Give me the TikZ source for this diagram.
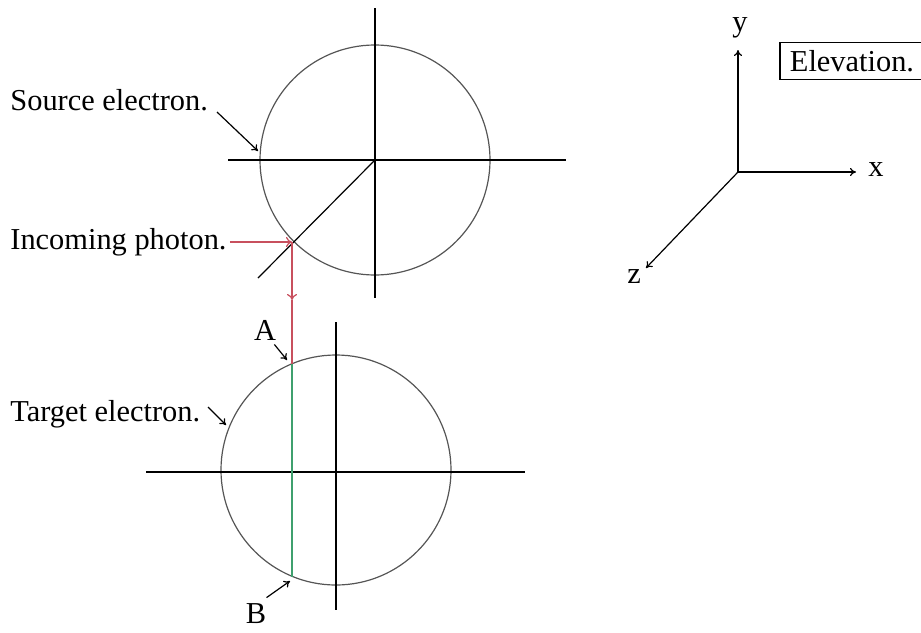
\documentclass[tikz,border=0pt]{standalone}
\usepackage{fontspec}
\setmainfont{Liberation Serif}
\usetikzlibrary{arrows.meta}
\definecolor{Photon}{HTML}{C8505E}
\definecolor{Path}{HTML}{3FA06E}
\definecolor{Shell}{HTML}{555555}

\begin{document}
\begin{tikzpicture}[
  x=0.5pt, y=-0.5pt,
  label/.style={inner sep=0pt, font=\fontsize{15.2}{18}\selectfont},
  axis/.style={line width=0.6pt, draw=black},
  shell/.style={line width=0.6pt, draw=Shell},
  pointer/.style={->, >={To[length=3pt,width=4pt]}, line width=0.6pt},
  photon/.style={->, >={To[length=3pt,width=5pt]}, line width=0.6pt, draw=Photon}
]
\useasboundingbox (0,0) rectangle (921,632);

% source electron
\coordinate (src) at (375,160);
\draw[shell] (src) circle[radius=115];
\draw[axis] (375,8) -- (375,298);
\draw[axis] (228,160) -- (566,160);
\draw[axis] (src) -- (258,278);
\coordinate (hit) at (292,242);

% target electron
\coordinate (tgt) at (336,470);
\draw[shell] (tgt) circle[radius=115];
\draw[axis] (336,322) -- (336,610);
\draw[axis] (146,472) -- (525,472);
\coordinate (A) at (292,364);
\coordinate (B) at (292,577);
\coordinate (bend) at (292,300);

% labels
\node[label, anchor=west] (srclab) at (10,100) {Source electron.};
\node[label, anchor=west] (phlab) at (10,242) {Incoming photon.};
\node[label, anchor=west] (tgtlab) at (10,414) {Target electron.};
\node[label] (alab) at (265,330) {A};
\node[label] (blab) at (256,614) {B};
\coordinate (srcin) at (217,112);
\coordinate (srcout) at (258,151);
\coordinate (tgtin) at (208,407);
\coordinate (tgtout) at (226,425);

\draw[pointer] (srcin) -- (srcout);
\draw[pointer] (tgtin) -- (tgtout);
\draw[pointer] (alab.south east) ++(-2,4) -- (287,360);
\draw[pointer] (blab.north east) ++(0,-6) -- (290,581);

% photon path
\draw[photon] (hit -| phlab.east) ++(3,0) -- (hit);
\draw[photon] (hit) -- (bend);
\draw[line width=0.6pt, draw=Photon] (bend) -- (A);
\draw[line width=0.6pt, draw=Path] (A) -- (B);

% axes
\coordinate (O) at (738,172);
\node[label] (ylab) at (740,28) {y};
\node[label] (xlab) at (876,170) {x};
\node[label] (zlab) at (634,277) {z};
\draw[pointer] (O) -- (738,50);
\draw[pointer] (O) -- (856,172);
\draw[pointer] (O) -- (646,268);

\node[label, draw, line width=0.6pt, inner xsep=5pt, inner ysep=4pt] (elev) at (852,61) {Elevation.};
\end{tikzpicture}
\end{document}
